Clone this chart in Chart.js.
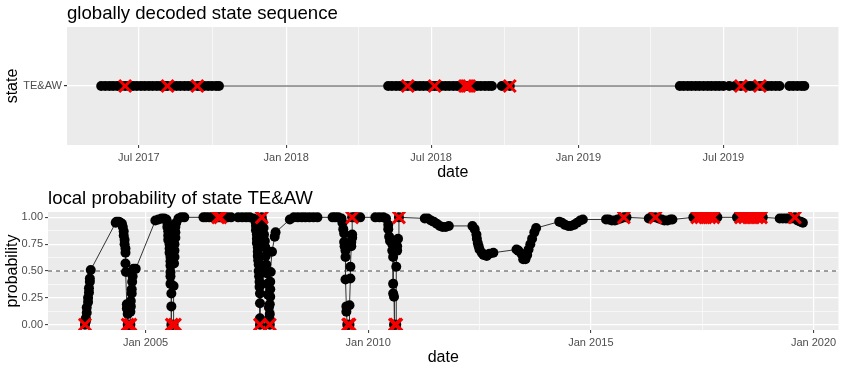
<!DOCTYPE html>
<html>
<head>
<meta charset="utf-8">
<script src="https://cdn.jsdelivr.net/npm/chart.js@4.4.1/dist/chart.umd.min.js"></script>
<style>
  body { margin: 0; background: #ffffff; }
  #wrap { position: relative; width: 850px; height: 370px; }
  canvas { position: absolute; left: 0; }
</style>
</head>
<body>
<div id="wrap">
  <canvas id="stateChart" width="850" height="185" style="top:0"></canvas>
  <canvas id="probChart" width="850" height="185" style="top:185px"></canvas>
</div>
<script>
// dates are decimal years
const stateLabels = ["TE&AW"];
const stateTime = [
    2017.367, 2017.381, 2017.395, 2017.408, 2017.422, 2017.435, 2017.449, 2017.462,
    2017.476, 2017.489, 2017.503, 2017.516, 2017.530, 2017.543, 2017.557, 2017.570,
    2017.584, 2017.594, 2017.611, 2017.625, 2017.638, 2017.652, 2017.665, 2017.679,
    2017.696, 2017.706, 2017.719, 2017.733, 2017.746, 2017.760, 2017.770,
    2018.349, 2018.362, 2018.376, 2018.389, 2018.403, 2018.416, 2018.430, 2018.443,
    2018.457, 2018.470, 2018.484, 2018.497, 2018.508, 2018.518, 2018.531, 2018.545,
    2018.558, 2018.572, 2018.585, 2018.599, 2018.612, 2018.619, 2018.626, 2018.639,
    2018.653, 2018.666, 2018.680, 2018.693, 2018.704, 2018.738, 2018.765,
    2019.347, 2019.360, 2019.374, 2019.387, 2019.401, 2019.414, 2019.428, 2019.442,
    2019.455, 2019.469, 2019.482, 2019.496, 2019.516, 2019.536, 2019.556, 2019.573,
    2019.587, 2019.600, 2019.621, 2019.634, 2019.648, 2019.661, 2019.675, 2019.688,
    2019.722, 2019.735, 2019.749, 2019.763, 2019.773,
];
const stateCrossTime = [
    2017.449, 2017.594, 2017.696, 2018.416, 2018.508, 2018.612, 2018.619, 2018.626,
    2018.765, 2019.556, 2019.621,
];
const stateTicks = [2017.496, 2018, 2018.496, 2019, 2019.496];
const stateTickLabels = ["Jul 2017", "Jan 2018", "Jul 2018", "Jan 2019", "Jul 2019"];
const stateMinor = [2017.748, 2018.248, 2018.748, 2019.248, 2019.748];

const probTime = [
    2003.64, 2003.66, 2003.66, 2003.68, 2003.68, 2003.71, 2003.71, 2003.73, 2003.73, 2003.75, 2003.75, 2003.77,
    2004.33, 2004.35, 2004.40, 2004.44, 2004.47, 2004.49, 2004.51, 2004.51, 2004.53, 2004.53, 2004.55, 2004.55,
    2004.55, 2004.56, 2004.58, 2004.58, 2004.60, 2004.60, 2004.62, 2004.64, 2004.66, 2004.66, 2004.67, 2004.67,
    2004.69, 2004.69, 2004.70, 2004.71, 2004.73, 2004.78,
    2005.22, 2005.29, 2005.36, 2005.42, 2005.47, 2005.49, 2005.49, 2005.51, 2005.51, 2005.51, 2005.54, 2005.54,
    2005.54, 2005.56, 2005.56, 2005.56, 2005.56, 2005.56, 2005.56, 2005.58, 2005.58, 2005.58, 2005.60, 2005.63,
    2005.63, 2005.64, 2005.65, 2005.65, 2005.65, 2005.67, 2005.67, 2005.67, 2005.69, 2005.74, 2005.80, 2005.87,
    2006.30, 2006.36, 2006.43, 2006.50, 2006.56, 2006.63, 2006.68, 2006.73, 2006.78, 2006.84, 2006.92,
    2007.08, 2007.17, 2007.26, 2007.34, 2007.43, 2007.47, 2007.48, 2007.48, 2007.50, 2007.50, 2007.50, 2007.52,
    2007.52, 2007.52, 2007.53, 2007.54, 2007.54, 2007.55, 2007.56, 2007.56, 2007.57, 2007.57, 2007.57, 2007.57,
    2007.59, 2007.61, 2007.61, 2007.63, 2007.65, 2007.66, 2007.68, 2007.69, 2007.70, 2007.71, 2007.72, 2007.74,
    2007.75, 2007.77, 2007.78, 2007.79, 2007.79, 2007.79, 2007.80, 2007.80, 2007.80, 2007.81, 2007.84, 2007.90,
    2007.92, 2008.24, 2008.33, 2008.42, 2008.51, 2008.59, 2008.68, 2008.77, 2008.86,
    2009.20, 2009.26, 2009.33, 2009.40, 2009.42, 2009.44, 2009.46, 2009.46, 2009.47, 2009.49, 2009.49, 2009.49,
    2009.51, 2009.51, 2009.53, 2009.55, 2009.58, 2009.58, 2009.60, 2009.60, 2009.62, 2009.62, 2009.64, 2009.64,
    2009.64, 2009.69, 2009.75, 2009.82,
    2010.16, 2010.25, 2010.34, 2010.40, 2010.45, 2010.45, 2010.47, 2010.49, 2010.54, 2010.54, 2010.56, 2010.56,
    2010.56, 2010.58, 2010.58, 2010.60, 2010.63, 2010.63, 2010.65, 2010.65, 2010.67, 2010.69,
    2011.27, 2011.34, 2011.41, 2011.47, 2011.54, 2011.61, 2011.67, 2011.74, 2011.81,
    2012.34, 2012.39, 2012.43, 2012.44, 2012.46, 2012.48, 2012.50, 2012.55, 2012.59, 2012.66, 2012.72, 2012.81,
    2013.33, 2013.37, 2013.44, 2013.48, 2013.53, 2013.57, 2013.60, 2013.64, 2013.68, 2013.73, 2013.77,
    2014.29, 2014.35, 2014.42, 2014.49, 2014.55, 2014.62, 2014.69, 2014.76, 2014.82,
    2015.34, 2015.40, 2015.47, 2015.54, 2015.60, 2015.67, 2015.74, 2015.80,
    2016.30, 2016.36, 2016.45, 2016.52, 2016.59, 2016.65, 2016.72, 2016.79, 2016.83,
    2017.30, 2017.39, 2017.48, 2017.57, 2017.66, 2017.75, 2017.84,
    2018.28, 2018.37, 2018.46, 2018.55, 2018.64, 2018.73, 2018.82, 2018.86,
    2019.24, 2019.31, 2019.38, 2019.44, 2019.51, 2019.58, 2019.64, 2019.71, 2019.76,
];
const probValue = [
    0.00, 0.03, 0.06, 0.11, 0.16, 0.21, 0.25, 0.30, 0.34, 0.40, 0.43, 0.51,
    0.95, 0.96, 0.96, 0.95, 0.94, 0.91, 0.87, 0.83, 0.79, 0.75, 0.71, 0.67,
    0.57, 0.49, 0.19, 0.15, 0.10, 0.00, 0.00, 0.00, 0.00, 0.12, 0.17, 0.22,
    0.29, 0.33, 0.40, 0.45, 0.52, 0.52,
    0.97, 0.98, 0.99, 0.99, 0.98, 0.95, 0.91, 0.87, 0.83, 0.79, 0.75, 0.71,
    0.67, 0.63, 0.59, 0.55, 0.49, 0.45, 0.38, 0.29, 0.17, 0.00, 0.00, 0.00,
    0.36, 0.57, 0.63, 0.69, 0.75, 0.81, 0.86, 0.91, 0.95, 0.99, 1.00, 1.00,
    1.00, 1.00, 1.00, 1.00, 1.00, 1.00, 1.00, 1.00, 1.00, 1.00, 1.00,
    1.00, 1.00, 1.00, 1.00, 0.99, 0.96, 0.92, 0.88, 0.84, 0.80, 0.76, 0.72,
    0.68, 0.64, 0.60, 0.56, 0.50, 0.45, 0.40, 0.35, 0.29, 0.20, 0.06, 0.00,
    0.55, 0.90, 1.00, 0.96, 0.90, 0.84, 0.78, 0.72, 0.64, 0.56, 0.48, 0.38,
    0.28, 0.16, 0.06, 0.00, 0.10, 0.19, 0.26, 0.33, 0.40, 0.49, 0.68, 0.82,
    0.86, 0.98, 1.00, 1.00, 1.00, 1.00, 1.00, 1.00, 1.00,
    1.00, 1.00, 1.00, 0.99, 0.95, 0.89, 0.85, 0.77, 0.73, 0.69, 0.63, 0.42,
    0.17, 0.12, 0.00, 0.00, 0.00, 0.18, 0.43, 0.54, 0.73, 0.77, 0.81, 0.84,
    1.00, 1.00, 1.00, 1.00,
    1.00, 1.00, 1.00, 0.99, 0.93, 0.89, 0.82, 0.78, 0.75, 0.69, 0.63, 0.38,
    0.29, 0.26, 0.00, 0.00, 0.00, 0.54, 0.69, 0.73, 0.80, 1.00,
    0.99, 0.99, 0.97, 0.96, 0.94, 0.92, 0.91, 0.91, 0.92,
    0.92, 0.89, 0.84, 0.80, 0.76, 0.73, 0.70, 0.67, 0.65, 0.64, 0.66, 0.67,
    0.70, 0.69, 0.66, 0.61, 0.61, 0.65, 0.70, 0.75, 0.80, 0.86, 0.90,
    0.96, 0.95, 0.93, 0.92, 0.92, 0.93, 0.95, 0.97, 0.98,
    0.98, 0.98, 0.97, 0.97, 0.98, 0.99, 1.00, 1.00,
    0.99, 1.00, 1.00, 0.99, 0.98, 0.97, 0.97, 0.98, 0.98,
    1.00, 1.00, 1.00, 1.00, 1.00, 1.00, 1.00,
    1.00, 1.00, 1.00, 1.00, 1.00, 1.00, 1.00, 1.00,
    0.99, 0.99, 0.99, 0.99, 0.99, 1.00, 0.97, 0.96, 0.95,
];
const probCrossTime = [
    2003.64, 2004.60, 2004.66, 2005.59, 2005.66, 2006.63, 2006.68, 2007.57, 2007.61, 2007.79,
    2009.55, 2009.58, 2009.64, 2010.60, 2010.63, 2010.69, 2015.74, 2016.45,
    2017.39, 2017.48, 2017.57, 2017.66, 2017.75,
    2018.37, 2018.46, 2018.55, 2018.64, 2018.73, 2018.82, 2019.58,
];
const probCrossValue = [
    0, 0, 0, 0, 0, 1, 1, 0, 1, 0,
    0, 0, 1, 0, 0, 1, 1, 1,
    1, 1, 1, 1, 1,
    1, 1, 1, 1, 1, 1, 1,
];
const probTicks = [2005, 2010, 2015, 2020];
const probTickLabels = ["Jan 2005", "Jan 2010", "Jan 2015", "Jan 2020"];
const probMinor = [2007.5, 2012.5, 2017.5];
const yTicks = [0, 0.25, 0.5, 0.75, 1];
const yTickLabels = ["0.00", "0.25", "0.50", "0.75", "1.00"];
const yMinor = [0.125, 0.375, 0.625, 0.875];

Chart.defaults.font.family = "'Liberation Sans', Arial, sans-serif";
Chart.defaults.animation = false;

const panelBg = {
    id: "panelBg",
    beforeDraw(chart) {
        const a = chart.chartArea;
        const ctx = chart.ctx;
        ctx.save();
        ctx.fillStyle = "#EBEBEB";
        ctx.fillRect(a.left, a.top, a.right - a.left, a.bottom - a.top);
        ctx.restore();
    },
};

function buildTicks(major, minor) {
    return function (scale) {
        const t = major.map((v) => ({ value: v }))
            .concat(minor.map((v) => ({ value: v, minor: true })));
        t.sort((a, b) => a.value - b.value);
        scale.ticks = t;
    };
}

function tickLabel(major, labels) {
    return function (value) {
        const i = major.findIndex((m) => Math.abs(m - value) < 1e-6);
        return i >= 0 ? labels[i] : "";
    };
}

const gridOpts = {
    color: "#ffffff",
    lineWidth: (c) => (c.tick && c.tick.minor ? 0.6 : 1.2),
    tickColor: (c) => (c.tick && c.tick.minor ? "rgba(0,0,0,0)" : "#333333"),
    tickLength: 3,
    tickWidth: 1,
};
const tickFont = { size: 11 };
const axisTitleFont = { size: 16 };
const crossColor = "rgb(245,0,0)";

function baseOptions(title) {
    return {
        responsive: false,
        events: [],
        layout: { padding: { right: 6 } },
        plugins: {
            legend: { display: false },
            tooltip: { enabled: false },
            title: {
                display: true,
                text: title,
                align: "start",
                fullSize: false,
                color: "#000000",
                font: { size: 18.6, weight: "normal", lineHeight: 1.16 },
                padding: { top: 3, bottom: 2.4 },
            },
        },
    };
}

// top panel
const stateOpts = baseOptions("globally decoded state sequence");
stateOpts.scales = {
    x: {
        type: "linear",
        min: 2017.25,
        max: 2019.89,
        afterBuildTicks: buildTicks(stateTicks, stateMinor),
        afterFit: (s) => { s.height = 40; },
        grid: gridOpts,
        border: { display: false },
        ticks: {
            autoSkip: false,
            maxRotation: 0,
            color: "#4D4D4D",
            font: tickFont,
            padding: 3,
            callback: tickLabel(stateTicks, stateTickLabels),
        },
        title: { display: true, text: "date", color: "#000000", font: axisTitleFont, padding: { bottom: 3 } },
    },
    y: {
        type: "category",
        labels: stateLabels,
        offset: true,
        afterFit: (s) => { s.width = 67; },
        grid: { color: "#ffffff", lineWidth: 1.2, tickColor: "#333333", tickLength: 3, offset: false },
        border: { display: false },
        ticks: { color: "#4D4D4D", font: tickFont, padding: 2 },
        title: { display: true, text: "state", color: "#000000", font: axisTitleFont, padding: { top: 3 } },
    },
};

new Chart(document.getElementById("stateChart"), {
    type: "scatter",
    data: {
        datasets: [
            {
                data: stateCrossTime.map((t) => ({ x: t, y: stateLabels[0] })),
                pointStyle: "crossRot",
                pointRadius: 8.5,
                borderColor: crossColor,
                pointBorderWidth: 3,
                showLine: false,
            },
            {
                data: stateTime.map((t) => ({ x: t, y: stateLabels[0] })),
                showLine: true,
                borderColor: "#444444",
                borderWidth: 1.2,
                pointRadius: 5,
                pointBackgroundColor: "#000000",
                pointBorderWidth: 0,
            },
        ],
    },
    options: stateOpts,
    plugins: [panelBg],
});

// bottom panel
const probOpts = baseOptions("local probability of state TE&AW");
probOpts.scales = {
    x: {
        type: "linear",
        min: 2002.81,
        max: 2020.56,
        afterBuildTicks: buildTicks(probTicks, probMinor),
        afterFit: (s) => { s.height = 40; },
        grid: gridOpts,
        border: { display: false },
        ticks: {
            autoSkip: false,
            maxRotation: 0,
            color: "#4D4D4D",
            font: tickFont,
            padding: 3,
            callback: tickLabel(probTicks, probTickLabels),
        },
        title: { display: true, text: "date", color: "#000000", font: axisTitleFont, padding: { bottom: 3 } },
    },
    y: {
        type: "linear",
        min: -0.05,
        max: 1.05,
        afterBuildTicks: buildTicks(yTicks, yMinor),
        afterFit: (s) => { s.width = 48; },
        grid: gridOpts,
        border: { display: false },
        ticks: {
            autoSkip: false,
            color: "#4D4D4D",
            font: tickFont,
            padding: 2,
            callback: tickLabel(yTicks, yTickLabels),
        },
        title: { display: true, text: "probability", color: "#000000", font: axisTitleFont, padding: { top: 3 } },
    },
};

new Chart(document.getElementById("probChart"), {
    type: "scatter",
    data: {
        datasets: [
            {
                data: probCrossTime.map((t, i) => ({ x: t, y: probCrossValue[i] })),
                pointStyle: "crossRot",
                pointRadius: 8.5,
                borderColor: crossColor,
                pointBorderWidth: 3,
                showLine: false,
            },
            {
                data: probTime.map((t, i) => ({ x: t, y: probValue[i] })),
                showLine: true,
                borderColor: "#333333",
                borderWidth: 1,
                pointRadius: 5,
                pointBackgroundColor: "#000000",
                pointBorderWidth: 0,
            },
            {
                // reference line at p = 0.5
                data: [{ x: 2002.81, y: 0.5 }, { x: 2020.56, y: 0.5 }],
                showLine: true,
                borderColor: "#444444",
                borderWidth: 1,
                borderDash: [4, 4],
                pointRadius: 0,
            },
        ],
    },
    options: probOpts,
    plugins: [panelBg],
});
</script>
</body>
</html>
